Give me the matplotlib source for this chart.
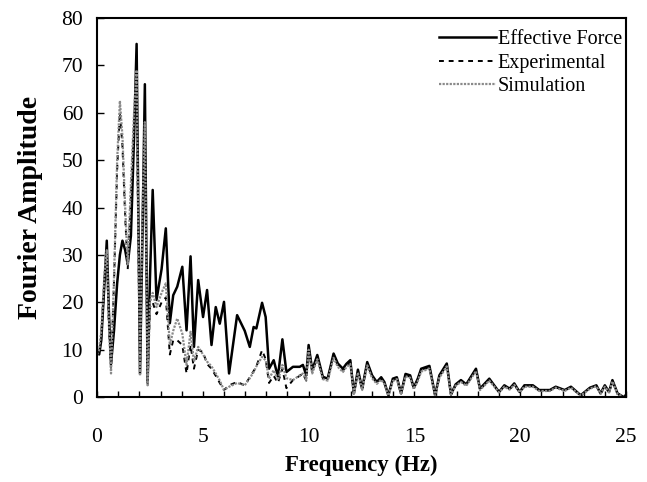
import matplotlib
matplotlib.use('Agg')
import matplotlib.pyplot as plt
from matplotlib.ticker import MultipleLocator

plt.rcParams['font.family'] = ['Liberation Serif', 'DejaVu Serif']

# frequency (Hz)
freq = [0.0, 0.1, 0.2, 0.35, 0.46, 0.56, 0.66, 0.8, 0.95, 1.08,
        1.2, 1.33, 1.45, 1.6, 1.75, 1.87, 1.95, 2.03, 2.15, 2.26,
        2.39, 2.5,
        2.63, 2.81, 3.05, 3.25, 3.44, 3.6, 3.79, 4.03, 4.23, 4.42,
        4.58, 4.78, 5.01, 5.2, 5.41, 5.61, 5.8, 6.0, 6.24, 6.62,
        6.98, 7.22, 7.4, 7.53, 7.8, 7.97, 8.13, 8.35, 8.55, 8.76,
        8.95, 9.26, 9.58, 9.73, 9.89,
        10.0, 10.17, 10.41, 10.67, 10.9, 11.18, 11.38, 11.62, 11.78, 11.97,
        12.14, 12.33, 12.53, 12.77, 13.0, 13.22, 13.43, 13.58, 13.77, 13.98,
        14.17, 14.37, 14.58, 14.8, 14.97, 15.16, 15.32, 15.71, 15.98, 16.18,
        16.53, 16.73, 16.95, 17.2, 17.45, 17.91, 18.1, 18.54, 19.0, 19.25,
        19.5, 19.72, 19.97, 20.2, 20.6, 20.9, 21.4, 21.68, 22.1, 22.4,
        22.86, 23.3, 23.6, 23.8, 24.0, 24.2, 24.36, 24.6, 24.9, 25.0]

effective = [10, 9, 12, 24, 33, 18, 7, 14, 24, 30,
             33, 31, 28, 34, 55, 74.5, 40, 5, 35, 66,
             3, 25,
             43.7, 20.5, 27, 35.6, 15.6, 21.5, 23.3, 27.5, 14.1, 29.7,
             10.6, 24.7, 16.9, 22.6, 11, 19, 15.5, 20.1, 5, 17.3,
             14, 10.6, 14.8, 14.5, 19.9, 16.9, 6, 7.8, 4.3, 12.2,
             5.3, 6.4, 6.4, 6.8, 4.6,
             11, 5.7, 8.9, 4.3, 3.9, 9.2, 7.1, 6, 7, 7.8,
             0.8, 5.8, 1.8, 7.4, 4.6, 3.2, 4.2, 3.2, 0.4, 3.9,
             4.2, 0.8, 4.9, 4.6, 2, 3.9, 6, 6.6, 0.4, 4.6,
             7.1, 0.6, 2.7, 3.6, 2.7, 6, 1.8, 3.9, 1.1, 2.5,
             1.8, 2.9, 1.1, 2.5, 2.5, 1.5, 1.5, 2.2, 1.5, 2.2,
             0.4, 2, 2.5, 0.8, 2.5, 1.1, 3.6, 0.8, 0, 0.5]

experimental = [10, 9, 13, 25, 30, 15, 6, 24, 48, 60,
                53, 38, 27, 42, 58, 66, 33, 5, 38, 55,
                3, 19,
                20, 17.5, 20, 21, 9, 12, 12, 11, 5, 11,
                6, 10, 9.5, 7, 6, 4.5, 3, 1.5, 2.5, 3.2,
                2.5, 4.2, 5.5, 6.5, 9.9, 8, 3, 4.5, 3, 6,
                1.9, 3.6, 4.5, 5, 3.5,
                10.5, 5.3, 8.4, 4, 3.6, 8.7, 6.7, 5.6, 6.6, 7.3,
                0.7, 5.4, 1.6, 7, 4.3, 3, 3.9, 3, 0.3, 3.6,
                3.9, 0.7, 4.6, 4.3, 1.8, 3.6, 5.7, 6.3, 0.3, 4.3,
                6.8, 0.5, 2.5, 3.4, 2.5, 5.7, 1.6, 3.7, 1, 2.3,
                1.7, 2.7, 1, 2.3, 2.3, 1.4, 1.4, 2.1, 1.4, 2.1,
                0.3, 1.9, 2.4, 0.7, 2.3, 1, 3.4, 0.7, 0, 0.4]

simulation = [9, 10, 14, 26, 31, 16, 5, 25, 50, 62.5,
              55, 40, 28, 45, 60, 69, 35, 4.5, 40, 58,
              2.5, 20,
              22, 19, 22, 24, 11, 14, 16.6, 13.4, 6.8, 13.8,
              7.5, 10.6, 9, 7.5, 6.5, 5, 3.5, 1.5, 2.2, 3,
              2.5, 4, 5.3, 6.5, 8.5, 7.8, 3.9, 5.7, 3.6, 6.8,
              4, 3.6, 4.6, 5, 3.5,
              10, 5, 8, 3.8, 3.5, 8.3, 6.4, 5.3, 6.3, 7,
              0.6, 5.2, 1.5, 6.7, 4, 2.8, 3.7, 2.8, 0.3, 3.4,
              3.8, 0.6, 4.4, 4.1, 1.7, 3.4, 5.4, 6, 0.3, 4.1,
              6.5, 0.5, 2.4, 3.2, 2.4, 5.5, 1.5, 3.5, 1, 2.2,
              1.6, 2.6, 1, 2.2, 2.2, 1.3, 1.3, 2, 1.3, 2,
              0.3, 1.8, 2.3, 0.7, 2.2, 1, 3.3, 0.7, 0, 0.4]

fig = plt.figure(figsize=(6.47, 4.82), dpi=100)
ax = fig.add_axes([0.150, 0.176, 0.8175, 0.787])

ax.plot(freq, effective, color='black', linewidth=1.8, label='Effective Force')
ax.plot(freq, experimental, color='black', linewidth=1.4, linestyle=(0, (2.5, 2.5)),
        label='Experimental')
ax.plot(freq, simulation, color='#8a8a8a', linewidth=1.6, linestyle=(0, (1, 0.6)),
        label='Simulation')

ax.set_xlim(0, 25)
ax.set_ylim(0, 80)
ax.xaxis.set_major_locator(MultipleLocator(5))
ax.xaxis.set_minor_locator(MultipleLocator(1))
ax.yaxis.set_major_locator(MultipleLocator(10))
ax.tick_params(which='both', direction='in', labelsize=15.5, width=1)
ax.tick_params(axis='y', which='major', length=5, pad=10)
ax.tick_params(axis='x', which='both', length=4, pad=22)
ax.tick_params(top=False, right=False)
for s in ax.spines.values():
    s.set_linewidth(1.5)

ax.set_xlabel('Frequency (Hz)', fontsize=16.5, fontweight='bold', labelpad=6)
ax.set_ylabel('Fourier Amplitude', fontsize=20, fontweight='bold', labelpad=13)

ax.legend(loc='upper right', bbox_to_anchor=(1.0, 0.978), frameon=False,
          fontsize=14.5, handlelength=2.8, handletextpad=0.1,
          labelspacing=0.22, borderaxespad=0.0, borderpad=0.2)

fig.savefig('out.png', dpi=100)
